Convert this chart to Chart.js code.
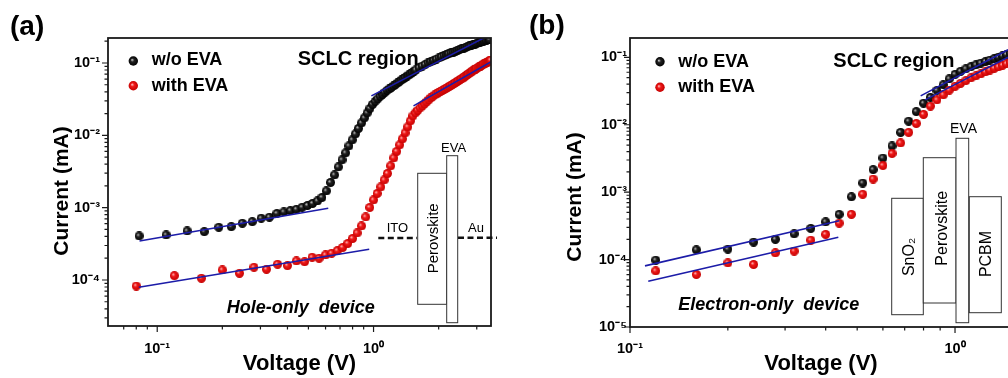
<!DOCTYPE html>
<html><head><meta charset="utf-8">
<script src="https://cdn.jsdelivr.net/npm/chart.js@4.4.1/dist/chart.umd.min.js"></script>
<style>
html,body{margin:0;padding:0;background:#fff;}
body{width:1008px;height:378px;overflow:hidden;position:relative;}
canvas{position:absolute;top:0;}
#ca{left:0;} #cb{left:505px;}
svg{position:absolute;left:0;top:0;}
svg text{font-family:"Liberation Sans",Arial,sans-serif;fill:#000;}
</style></head><body>
<canvas id="ca" width="505" height="378"></canvas>
<canvas id="cb" width="520" height="378"></canvas>
<svg width="1008" height="378" viewBox="0 0 1008 378">
<defs>
<radialGradient id="gk" cx="0.5" cy="0.5" r="0.5" fx="0.36" fy="0.36"><stop offset="0" stop-color="#d8d8d8"/><stop offset="0.38" stop-color="#222"/><stop offset="1" stop-color="#000"/></radialGradient>
<radialGradient id="gr" cx="0.5" cy="0.5" r="0.5" fx="0.36" fy="0.36"><stop offset="0" stop-color="#ffd0d0"/><stop offset="0.38" stop-color="#f01a1a"/><stop offset="1" stop-color="#c40000"/></radialGradient>
</defs>
<!-- panel (a) annotations -->
<text x="10" y="35" font-size="28" font-weight="bold">(a)</text>
<circle cx="133.3" cy="61" r="4.7" fill="url(#gk)"/>
<text x="151.7" y="65" font-size="18" font-weight="bold">w/o EVA</text>
<circle cx="133.3" cy="85.7" r="4.7" fill="url(#gr)"/>
<text x="151.7" y="90.7" font-size="18" font-weight="bold">with EVA</text>
<text x="297.7" y="65" font-size="20" font-weight="bold">SCLC region</text>
<text x="226.7" y="313" font-size="18" font-weight="bold" font-style="italic" style="white-space:pre">Hole-only  device</text>
<text transform="translate(60.3,191) rotate(-90)" text-anchor="middle" dominant-baseline="central" font-size="21" font-weight="bold">Current (mA)</text>
<line x1="378.3" y1="238" x2="417" y2="238" stroke="#111" stroke-width="2.5" stroke-dasharray="6 3.5"/>
<line x1="458" y1="237.7" x2="497" y2="237.7" stroke="#111" stroke-width="2.5" stroke-dasharray="6 3.5"/>
<rect x="417.7" y="173.3" width="29" height="131" fill="#fff" stroke="#333" stroke-width="1"/>
<rect x="446.7" y="155.7" width="11" height="167" fill="#fff" stroke="#333" stroke-width="1"/>
<text x="441" y="151.7" font-size="13">EVA</text>
<text x="386.7" y="231.7" font-size="13">ITO</text>
<text x="468" y="231.7" font-size="13">Au</text>
<text transform="translate(432.5,238.3) rotate(-90)" text-anchor="middle" dominant-baseline="central" font-size="15">Perovskite</text>
<!-- panel (b) annotations -->
<text x="529" y="34" font-size="28" font-weight="bold">(b)</text>
<circle cx="660" cy="61.7" r="4.7" fill="url(#gk)"/>
<text x="678.3" y="66.7" font-size="18" font-weight="bold">w/o EVA</text>
<circle cx="660" cy="87.3" r="4.7" fill="url(#gr)"/>
<text x="678.3" y="91.7" font-size="18" font-weight="bold">with EVA</text>
<text x="833.3" y="66.7" font-size="20" font-weight="bold">SCLC region</text>
<text x="678.3" y="310" font-size="18" font-weight="bold" font-style="italic" style="white-space:pre">Electron-only  device</text>
<text transform="translate(573.3,197) rotate(-90)" text-anchor="middle" dominant-baseline="central" font-size="21" font-weight="bold">Current (mA)</text>
<rect x="891.7" y="198.3" width="31.6" height="116.4" fill="#fff" stroke="#333" stroke-width="1"/>
<rect x="923.3" y="157.7" width="32.7" height="145.3" fill="#fff" stroke="#333" stroke-width="1"/>
<rect x="956" y="138.3" width="12.7" height="184.4" fill="#fff" stroke="#333" stroke-width="1"/>
<rect x="969.3" y="196.7" width="32" height="116" fill="#fff" stroke="#333" stroke-width="1"/>
<text x="950" y="133.3" font-size="14">EVA</text>
<text transform="translate(908,257) rotate(-90)" text-anchor="middle" dominant-baseline="central" font-size="16">SnO₂</text>
<text transform="translate(941,228.3) rotate(-90)" text-anchor="middle" dominant-baseline="central" font-size="16">Perovskite</text>
<text transform="translate(985,254) rotate(-90)" text-anchor="middle" dominant-baseline="central" font-size="16">PCBM</text>
</svg>
<script>
// ---------- Panel (a): hole-only device ----------
const aBlackV = [0.0825,0.11,0.1375,0.165,0.1925,0.22,0.2475,0.275,0.3025,0.33,0.3575,0.385,0.4125,0.44,0.4675,0.495,0.5225,0.55,0.5775,0.605,0.6325,0.66,0.6875,0.715,0.7425,0.77,0.7975,0.825,0.8525,0.88,0.9075,0.935,0.9625,0.99,1.0175,1.045,1.0725,1.1,1.1275,1.155,1.1825,1.21,1.2375,1.265,1.2925,1.32,1.3475,1.375,1.4025,1.43,1.4575,1.485,1.5125,1.54,1.5675,1.6225,1.6775,1.7325,1.7875,1.8425,1.8975,1.9525,2.0075,2.0625,2.1175,2.1725,2.2275,2.2825,2.3375,2.3925,2.4475,2.5025,2.5575,2.6125,2.6675,2.7225,2.7775,2.8325,2.8875,2.9425,2.9975,3.0525,3.1075,3.1625,3.2175,3.2725,3.3275,3.3825,3.4375];
const aBlackI = [4.06e-4,4.19e-4,4.76e-4,4.66e-4,5.36e-4,5.46e-4,6.08e-4,6.40e-4,7.14e-4,7.37e-4,8.31e-4,8.72e-4,9.09e-4,9.50e-4,1.013e-3,1.073e-3,1.143e-3,1.238e-3,1.384e-3,1.702e-3,2.232e-3,2.834e-3,3.656e-3,4.57e-3,5.71e-3,7.14e-3,8.64e-3,1.046e-2,1.246e-2,1.484e-2,1.741e-2,2.04e-2,2.356e-2,2.676e-2,2.944e-2,3.19e-2,3.45e-2,3.68e-2,3.92e-2,4.18e-2,4.38e-2,4.60e-2,4.82e-2,5.06e-2,5.31e-2,5.57e-2,5.84e-2,6.06e-2,6.32e-2,6.59e-2,6.85e-2,7.11e-2,7.41e-2,7.70e-2,8.03e-2,8.58e-2,9.06e-2,9.53e-2,1.003e-1,1.046e-1,1.086e-1,1.132e-1,1.177e-1,1.218e-1,1.262e-1,1.303e-1,1.341e-1,1.380e-1,1.415e-1,1.456e-1,1.499e-1,1.537e-1,1.572e-1,1.607e-1,1.644e-1,1.681e-1,1.719e-1,1.752e-1,1.791e-1,1.825e-1,1.860e-1,1.897e-1,1.927e-1,1.964e-1,1.995e-1,2.028e-1,2.060e-1,2.094e-1,2.120e-1];
const aRedV = [0.08,0.12,0.16,0.20,0.24,0.28,0.32,0.36,0.40,0.44,0.48,0.52,0.56,0.60,0.64,0.68,0.72,0.76,0.80,0.84,0.88,0.92,0.96,1.00,1.04,1.08,1.12,1.16,1.20,1.24,1.28,1.32,1.36,1.40,1.44,1.48,1.52,1.56,1.60,1.64,1.68,1.72,1.76,1.80,1.84,1.88,1.92,1.96,2.00,2.04,2.08,2.12,2.16,2.20,2.24,2.28,2.32,2.36,2.40,2.44,2.48,2.52,2.56,2.60,2.64,2.68,2.72,2.76,2.80,2.84,2.88,2.92,2.96,3.00,3.04,3.08,3.12,3.16,3.20,3.24,3.28,3.32,3.36,3.40,3.44,3.48];
const aRedI = [8.26e-5,1.147e-4,1.056e-4,1.375e-4,1.238e-4,1.499e-4,1.406e-4,1.649e-4,1.577e-4,1.832e-4,1.791e-4,2.061e-4,1.996e-4,2.218e-4,2.341e-4,2.543e-4,2.816e-4,3.197e-4,3.75e-4,4.47e-4,5.58e-4,7.43e-4,1.006e-3,1.278e-3,1.572e-3,1.933e-3,2.416e-3,2.972e-3,3.775e-3,4.868e-3,5.99e-3,7.37e-3,8.92e-3,1.08e-2,1.307e-2,1.582e-2,1.855e-2,2.04e-2,2.21e-2,2.39e-2,2.55e-2,2.72e-2,2.90e-2,3.09e-2,3.29e-2,3.45e-2,3.62e-2,3.74e-2,3.92e-2,4.05e-2,4.18e-2,4.31e-2,4.45e-2,4.60e-2,4.75e-2,4.90e-2,5.06e-2,5.22e-2,5.39e-2,5.57e-2,5.74e-2,5.93e-2,6.06e-2,6.22e-2,6.49e-2,6.71e-2,6.91e-2,7.14e-2,7.34e-2,7.55e-2,7.80e-2,8.03e-2,8.26e-2,8.47e-2,8.67e-2,8.86e-2,9.06e-2,9.26e-2,9.47e-2,9.69e-2,9.87e-2,1.01e-1,1.029e-1,1.052e-1,1.072e-1,1.093e-1];
// fitted lines (end points)
const aFitBlackLowV = [0.0828, 0.6174], aFitBlackLowI = [3.46e-4, 9.81e-4];
const aFitRedLowV = [0.0822, 0.955],   aFitRedLowI = [7.93e-5, 2.66e-4];
const aFitBlackHighV = [0.977, 3.245], aFitBlackHighI = [3.51e-2, 2.225e-1];
const aFitRedHighV = [1.53, 3.48],     aFitRedHighI = [2.55e-2, 1.035e-1];
const aXMajor = [0.1, 1], aXMajorLabels = ['10⁻¹', '10⁰'];
const aYMajor = [1e-4, 1e-3, 1e-2, 1e-1], aYMajorLabels = ['10⁻⁴', '10⁻³', '10⁻²', '10⁻¹'];

// ---------- Panel (b): electron-only device ----------
const bV = [0.12,0.16,0.20,0.24,0.28,0.32,0.36,0.40,0.44,0.48,0.52,0.56,0.60,0.64,0.68,0.72,0.76,0.80,0.84,0.88,0.92,0.96,1.00,1.04,1.08,1.12,1.16,1.20,1.24,1.28,1.32,1.36,1.40,1.44,1.48];
const bBlackI = [9.80e-5,1.394e-4,1.427e-4,1.813e-4,1.996e-4,2.41e-4,2.90e-4,3.63e-4,4.69e-4,8.54e-4,1.365e-3,2.16e-3,3.21e-3,4.84e-3,7.69e-3,1.127e-2,1.566e-2,2.087e-2,2.545e-2,3.233e-2,3.904e-2,4.79e-2,5.59e-2,6.19e-2,6.75e-2,7.27e-2,7.74e-2,8.20e-2,8.63e-2,9.09e-2,9.56e-2,1.004e-1,1.052e-1,1.097e-1,1.147e-1];
const bRedI = [6.79e-5,6.01e-5,8.93e-5,8.46e-5,1.258e-4,1.333e-4,1.942e-4,2.36e-4,3.47e-4,4.69e-4,9.31e-4,1.565e-3,2.485e-3,3.75e-3,5.37e-3,7.69e-3,1.045e-2,1.422e-2,1.890e-2,2.336e-2,2.772e-2,3.267e-2,3.71e-2,4.11e-2,4.52e-2,4.96e-2,5.31e-2,5.68e-2,6.09e-2,6.48e-2,6.86e-2,7.22e-2,7.61e-2,8.01e-2,8.40e-2];
const bFitBlackLowV = [0.1112, 0.4406], bFitBlackLowI = [8.06e-5, 3.76e-4];
const bFitRedLowV = [0.1138, 0.4375],   bFitRedLowI = [4.78e-5, 2.15e-4];
const bFitBlackHighV = [0.784, 1.456],  bFitBlackHighI = [2.68e-2, 1.293e-1];
const bFitRedHighV = [0.809, 1.456],    bFitRedHighI = [2.336e-2, 1.0e-1];
const bXMajor = [0.1, 1], bXMajorLabels = ['10⁻¹', '10⁰'];
const bYMajor = [1e-5, 1e-4, 1e-3, 1e-2, 1e-1], bYMajorLabels = ['10⁻⁵', '10⁻⁴', '10⁻³', '10⁻²', '10⁻¹'];

const FONT = '"Liberation Sans", Arial, sans-serif';
Chart.defaults.font.family = FONT;
const FIT_COLOR = '#1c1ca8';

function sphere(d, hi, mid, edge) {
  const c = document.createElement('canvas');
  c.width = d; c.height = d;
  const g = c.getContext('2d'); const r = d / 2;
  const gr = g.createRadialGradient(r - r * 0.32, r - r * 0.32, 0, r, r, r);
  gr.addColorStop(0, hi); gr.addColorStop(0.38, mid); gr.addColorStop(1, edge);
  g.fillStyle = gr; g.beginPath(); g.arc(r, r, r, 0, Math.PI * 2); g.fill();
  return c;
}
const blackDot = sphere(9, '#d8d8d8', '#222', '#000');
const redDot = sphere(9, '#ffd0d0', '#f01a1a', '#c40000');

const pts = (xs, ys) => xs.map((x, i) => ({x, y: ys[i]}));
function labeler(vals, labels) {
  return v => {
    const i = vals.findIndex(t => Math.abs(Math.log10(t) - Math.log10(v)) < 1e-6);
    return i >= 0 ? labels[i] : '';
  };
}
function mantissa(v) {
  const e = Math.floor(Math.log10(v) + 1e-9);
  const m = v / Math.pow(10, e); const r = Math.round(m);
  return (Math.abs(m - r) < 1e-6 && r >= 1 && r <= 9) ? r : 0;
}
const frameTicks = {
  id: 'frameTicks',
  afterDraw(chart) {
    const {ctx, chartArea: a} = chart;
    const xs = chart.scales.x, ys = chart.scales.y;
    ctx.save();
    ctx.strokeStyle = '#1a1a1a';
    ctx.lineWidth = 1.2;
    ctx.beginPath();
    xs.ticks.forEach(t => {
      const m = mantissa(t.value); if (!m) return;
      const p = xs.getPixelForValue(t.value);
      if (p < a.left - 0.5 || p > a.right + 0.5) return;
      const len = m === 1 ? 6 : 3.5;
      ctx.moveTo(p, a.bottom); ctx.lineTo(p, a.bottom + len);
    });
    ys.ticks.forEach(t => {
      const m = mantissa(t.value); if (!m) return;
      const p = ys.getPixelForValue(t.value);
      if (p < a.top - 0.5 || p > a.bottom + 0.5) return;
      const len = m === 1 ? 6 : 3.5;
      ctx.moveTo(a.left, p); ctx.lineTo(a.left - len, p);
    });
    ctx.stroke();
    ctx.lineWidth = 1.8;
    ctx.strokeRect(a.left, a.top, a.right - a.left, a.bottom - a.top);
    ctx.restore();
  }
};

function fitDs(v, i) {
  return {type: 'line', data: pts(v, i), borderColor: FIT_COLOR, borderWidth: 1.6, pointRadius: 0, fill: false, tension: 0};
}
function dotDs(v, i, img) {
  return {type: 'scatter', data: pts(v, i), pointStyle: img, pointRadius: 4.5, showLine: false};
}

function build(id, o) {
  const tickFont = {family: FONT, size: 14.5, weight: 'bold'};
  return new Chart(document.getElementById(id), {
    data: {datasets: o.datasets},
    options: {
      responsive: false, animation: false, devicePixelRatio: 1,
      layout: {padding: {left: 0, top: 38, right: o.padRight, bottom: 0}},
      plugins: {legend: {display: false}, tooltip: {enabled: false}},
      scales: {
        x: {
          type: 'logarithmic', position: 'bottom', min: o.xmin, max: o.xmax,
          grid: {display: false, drawTicks: false}, border: {display: false},
          ticks: {autoSkip: false, maxRotation: 0, minRotation: 0, padding: o.xPad, color: '#000', font: tickFont,
                  callback: labeler(o.xMajor, o.xLabels)},
          title: {display: true, text: 'Voltage (V)', color: '#000', font: {family: FONT, size: 22, weight: 'bold'}, padding: {top: 0, bottom: 1}},
          afterFit: s => { s.height = o.xH; }
        },
        y: {
          type: 'logarithmic', position: 'left', min: o.ymin, max: o.ymax,
          grid: {display: false, drawTicks: false}, border: {display: false},
          ticks: {autoSkip: false, padding: o.yPad, color: '#000', font: tickFont,
                  callback: labeler(o.yMajor, o.yLabels)},
          afterFit: s => { s.width = o.yW; }
        }
      }
    },
    plugins: [frameTicks]
  });
}

build('ca', {
  datasets: [
    fitDs(aFitBlackLowV, aFitBlackLowI), fitDs(aFitRedLowV, aFitRedLowI),
    fitDs(aFitBlackHighV, aFitBlackHighI), fitDs(aFitRedHighV, aFitRedHighI),
    dotDs(aRedV, aRedI, redDot), dotDs(aBlackV, aBlackI, blackDot)
  ],
  xmin: 0.05922, xmax: 3.491, ymin: 2.312e-5, ymax: 0.2216,
  padRight: 8, xH: 52, yW: 108, xPad: 14, yPad: 8,
  xMajor: aXMajor, xLabels: aXMajorLabels, yMajor: aYMajor, yLabels: aYMajorLabels
});
build('cb', {
  datasets: [
    fitDs(bFitBlackLowV, bFitBlackLowI), fitDs(bFitRedLowV, bFitRedLowI),
    fitDs(bFitBlackHighV, bFitBlackHighI), fitDs(bFitRedHighV, bFitRedHighI),
    dotDs(bV, bRedI, redDot), dotDs(bV, bBlackI, blackDot)
  ],
  xmin: 0.1, xmax: 1.4973, ymin: 1e-5, ymax: 0.1934,
  padRight: 13, xH: 51, yW: 125, xPad: 13, yPad: 3,
  xMajor: bXMajor, xLabels: bXMajorLabels, yMajor: bYMajor, yLabels: bYMajorLabels
});
</script>
</body></html>
